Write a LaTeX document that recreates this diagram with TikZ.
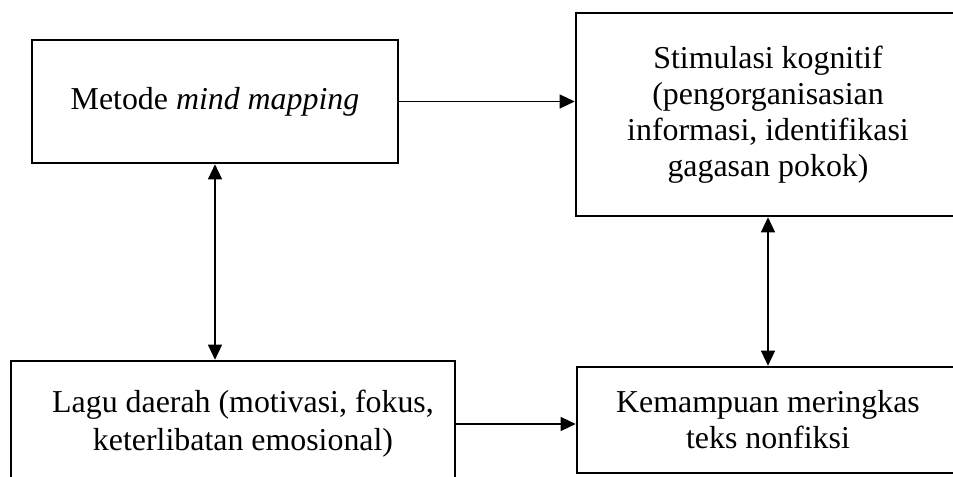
\documentclass[tikz,border=0pt]{standalone}
\usepackage{fontspec}
\setmainfont{Liberation Serif}
\usetikzlibrary{arrows.meta}
\begin{document}
\begin{tikzpicture}[x=1bp,y=-1bp,>={Triangle[length=15bp,width=14bp]},line join=miter,
  box/.style={draw,line width=2.6bp,inner sep=0pt,align=center,font=\fontsize{32}{36}\selectfont},
  link/.style={line width=1.3bp}]
\useasboundingbox (0,0) rectangle (953,477);
\clip (0,0) rectangle (953,477);
%%
\node (mindmap) at (215,101.5) [box,minimum width=366bp,minimum height=123bp] {\raisebox{-3bp}{Metode \textit{mind mapping}}};
\node (kognitif) at (768,114.5) [box,minimum width=384bp,minimum height=203bp] {Stimulasi kognitif\\(pengorganisasian\\informasi, identifikasi\\gagasan pokok)};
\node (lagu) at (233,424) [box,minimum width=444bp,minimum height=126bp,font=\fontsize{32}{38}\selectfont] {\hspace*{20bp}Lagu daerah (motivasi, fokus,\\\hspace*{20bp}keterlibatan emosional)};
\node (ringkas) at (768,420) [box,minimum width=382bp,minimum height=106bp] {Kemampuan meringkas\\teks nonfiksi};
%
\draw [link,->] (mindmap.east) -- (mindmap.east -| kognitif.west);
\draw [link,<->] (mindmap.south) -- (mindmap.south |- lagu.north);
\draw [link,<->] (kognitif.south) -- (ringkas.north);
\draw [link,->] (lagu.east) -- (lagu.east -| ringkas.west);
%
\end{tikzpicture}
\end{document}
